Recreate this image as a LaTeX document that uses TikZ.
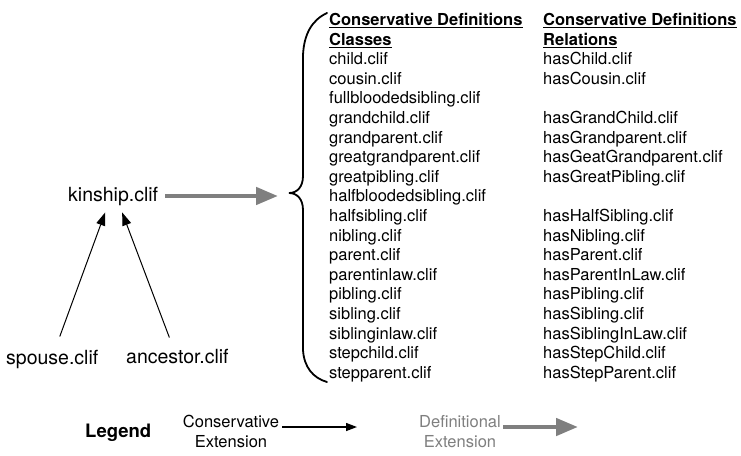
\documentclass[tikz,border=0pt]{standalone}
\usepackage{fontspec}
\setmainfont{TeX Gyre Heros}
\usetikzlibrary{arrows.meta}
\newcommand\ulx[1]{\setbox0\hbox{#1}\rlap{\rule[-2.6pt]{\wd0}{1.2pt}}\box0}
\definecolor{defgray}{HTML}{7F7F7F}
\begin{document}
\begin{tikzpicture}[x=1pt,y=-1pt,
  txt/.style={inner sep=0pt,anchor=base west},
  listtxt/.style={txt,font=\fontsize{16.5}{19.6}\selectfont},
  bigtxt/.style={txt,font=\fontsize{19.5}{22}\selectfont},
  legtxt/.style={inner sep=0pt,align=center,font=\fontsize{16.5}{20}\selectfont},
  blk/.style={line width=1pt,-{Triangle[length=13pt,width=9pt]}},
  legblk/.style={line width=1.3pt,-{Triangle[length=11pt,width=8pt]}},
  grayarr/.style={defgray,line width=4.5pt,-{Triangle[length=22pt,width=17pt]}},
  bracepath/.style={line width=1.8pt,line cap=round}]
\useasboundingbox (0,0) rectangle (741,455);

% left part
\node[bigtxt] (kinship) at (68,201) {kinship.clif};
\node[bigtxt] (spouse) at (6,364) {spouse.clif};
\node[bigtxt] (ancestor) at (126,363) {ancestor.clif};
\draw[blk] ([xshift=7.5pt,yshift=13pt]spouse.north) -- ([xshift=-8pt,yshift=-7pt]kinship.south);
\draw[blk] ([xshift=-8pt,yshift=11pt]ancestor.north) -- ([xshift=9pt,yshift=-7pt]kinship.south);

% brace
\coordinate (brtip) at (289,193);
\coordinate (gtip) at (278,195);
\draw[bracepath] (327,13) .. controls (312,20) and (304,34) .. (303,55)
  -- (303,176) .. controls (303,187) and (297,193) .. (brtip)
  .. controls (297,193) and (303,199) .. (303,210)
  -- (303,350) .. controls (304,367) and (313,378) .. (327,382);
\draw[grayarr] ([xshift=7pt]kinship.east) -- (kinship.east -| gtip);

% headers
\node[listtxt,font=\fontsize{16.5}{19.6}\selectfont\bfseries] (hc1) at (329,25.5) {\ulx{Conservative Definitions}};
\node[listtxt,font=\fontsize{16.5}{19.6}\selectfont\bfseries] (hc2) at (329,45.1) {\ulx{Classes}};
\node[listtxt,font=\fontsize{16.5}{19.6}\selectfont\bfseries] (hr1) at (543,25.5) {\ulx{Conservative Definitions}};
\node[listtxt,font=\fontsize{16.5}{19.6}\selectfont\bfseries] (hr2) at (543,45.1) {\ulx{Relations}};

% classes
\foreach \t [count=\i] in {child.clif,cousin.clif,fullbloodedsibling.clif,grandchild.clif,grandparent.clif,greatgrandparent.clif,greatpibling.clif,halfbloodedsibling.clif,halfsibling.clif,nibling.clif,parent.clif,parentinlaw.clif,pibling.clif,sibling.clif,siblinginlaw.clif,stepchild.clif,stepparent.clif}
  \node[listtxt] (c\i) at (329,{25.5+19.6*(\i+1)}) {\t};

% relations
\foreach \i/\t in {1/hasChild.clif,2/hasCousin.clif,4/hasGrandChild.clif,5/hasGrandparent.clif,6/hasGeatGrandparent.clif,7/hasGreatPibling.clif,9/hasHalfSibling.clif,10/hasNibling.clif,11/hasParent.clif,12/hasParentInLaw.clif,13/hasPibling.clif,14/hasSibling.clif,15/hasSiblingInLaw.clif,16/hasStepChild.clif,17/hasStepParent.clif}
  \node[listtxt] (r\i) at (543,{25.5+19.6*(\i+1)}) {\t};

% legend
\node[txt,font=\fontsize{18.5}{22}\selectfont\bfseries] (legend) at (85,437) {Legend};
\node[legtxt,anchor=base] (conslab) at (231,447) {Conservative\\Extension};
\node[legtxt,anchor=base,text=defgray] (deflab) at (460,447) {Definitional\\Extension};
\coordinate (lb1) at (282,427);
\coordinate (lb2) at (357,427);
\coordinate (lg1) at (503,427);
\coordinate (lg2) at (578,427);
\draw[legblk] (lb1) -- (lb2);
\draw[grayarr] (lg1) -- (lg2);
\end{tikzpicture}
\end{document}
